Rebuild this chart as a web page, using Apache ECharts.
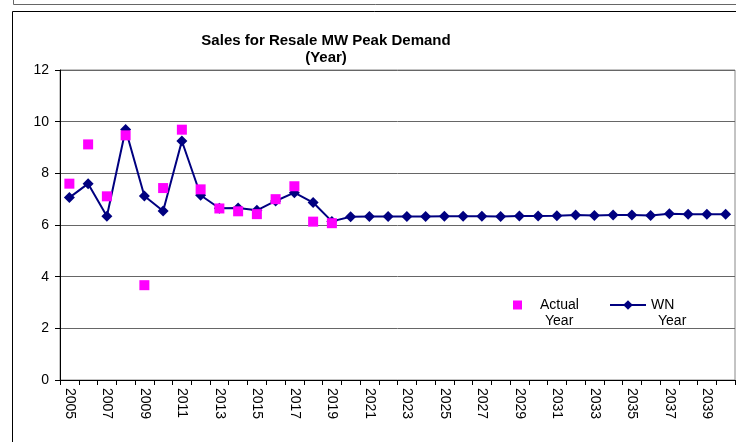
<!DOCTYPE html>
<html>
<head>
<meta charset="utf-8">
<script src="https://cdn.jsdelivr.net/npm/echarts@6/dist/echarts.min.js"></script>
<style>
  html, body { margin: 0; padding: 0; background: #fff; }
  #chart { width: 736px; height: 442px; }
</style>
</head>
<body>
<div id="chart"></div>
<script>
// years on the x axis
var years = [];
for (var y = 2005; y <= 2040; y++) years.push(String(y));

// actual peak demand (MW), history only
var actualYear = [7.60, 9.12, 7.11, 9.47, 3.67, 7.43, 9.69, 7.38, 6.64, 6.53,
  6.42, 7.00, 7.50, 6.13, 6.07];

// weather normalized peak demand (MW), history + forecast
var wnYear = [7.06, 7.60, 6.34, 9.70, 7.12, 6.54, 9.25, 7.15, 6.65, 6.66,
  6.57, 6.93, 7.25, 6.87, 6.14, 6.32, 6.33, 6.33, 6.33, 6.33,
  6.34, 6.34, 6.34, 6.33, 6.35, 6.35, 6.36, 6.39, 6.37, 6.39,
  6.39, 6.37, 6.44, 6.42, 6.42, 6.42];

var yTicks = [0, 2, 4, 6, 8, 10, 12];

var actualData = years.map(function (yr, i) {
  return i < actualYear.length ? actualYear[i] : '-';
});

var font = 'Liberation Sans, Arial, sans-serif';
var chart = echarts.init(document.getElementById('chart'));

chart.setOption({
  backgroundColor: '#fff',
  animation: false,
  title: {
    text: 'Sales for Resale MW Peak Demand\n(Year)',
    left: 321,
    top: 27,
    textAlign: 'center',
    textStyle: {
      fontFamily: font, fontSize: 15, fontWeight: 'bold',
      color: '#000', lineHeight: 17
    }
  },
  graphic: [
    {
      type: 'rect', silent: true,
      shape: { x: 13.5, y: -10, width: 760, height: 14.5 },
      style: { fill: 'none', stroke: '#666', lineWidth: 1 }
    },
    {
      type: 'rect', silent: true,
      shape: { x: 12.5, y: 11.5, width: 760, height: 480 },
      style: { fill: 'none', stroke: '#000', lineWidth: 1 }
    }
  ],
  legend: [
    {
      data: ['Actual'],
      left: 513, top: 298,
      padding: 0,
      icon: 'rect',
      itemWidth: 9, itemHeight: 9,
      selectedMode: false,
      formatter: function () { return '{a|Actual}\n{b|Year}'; },
      textStyle: {
        fontFamily: font, fontSize: 14, color: '#000',
        padding: [16, 0, 0, 13],
        rich: {
          a: { fontFamily: font, fontSize: 14, lineHeight: 16, color: '#000' },
          b: { fontFamily: font, fontSize: 14, lineHeight: 16, color: '#000', padding: [0, 0, 0, 5] }
        }
      }
    },
    {
      data: ['WN'],
      left: 609, top: 298,
      padding: 0,
      itemWidth: 36, itemHeight: 12,
      selectedMode: false,
      formatter: function () { return '{a|WN}\n{b|Year}'; },
      textStyle: {
        fontFamily: font, fontSize: 14, color: '#000',
        padding: [16, 0, 0, 0],
        rich: {
          a: { fontFamily: font, fontSize: 14, lineHeight: 16, color: '#000' },
          b: { fontFamily: font, fontSize: 14, lineHeight: 16, color: '#000', padding: [0, 0, 0, 7] }
        }
      }
    }
  ],
  grid: {
    left: 60, top: 70, right: 1, bottom: 62,
    show: true, borderColor: '#888', borderWidth: 1
  },
  xAxis: {
    type: 'category',
    data: years,
    boundaryGap: true,
    axisLine: { lineStyle: { color: '#000', width: 1 } },
    axisTick: { show: true, interval: 0, length: 5, lineStyle: { color: '#000' } },
    axisLabel: {
      interval: 1, rotate: -90, margin: 8,
      fontFamily: font, fontSize: 14, color: '#000'
    },
    splitLine: { show: false }
  },
  yAxis: {
    type: 'value',
    min: yTicks[0], max: yTicks[yTicks.length - 1], interval: 2,
    axisLine: { show: true, lineStyle: { color: '#000', width: 1 } },
    axisTick: { show: true, length: 5, lineStyle: { color: '#000' } },
    axisLabel: { margin: 11, fontFamily: font, fontSize: 14, color: '#000' },
    splitLine: { show: true, lineStyle: { color: '#666', width: 1 } }
  },
  series: [
    {
      name: 'WN',
      type: 'line',
      data: wnYear,
      symbol: 'diamond',
      symbolSize: 11,
      lineStyle: { color: '#000080', width: 2 },
      itemStyle: { color: '#000080' },
      z: 2
    },
    {
      name: 'Actual',
      type: 'line',
      data: actualData,
      symbol: 'rect',
      symbolSize: 10,
      lineStyle: { width: 0, opacity: 0 },
      itemStyle: { color: '#ff00ff' },
      z: 3
    }
  ]
});
</script>
</body>
</html>
